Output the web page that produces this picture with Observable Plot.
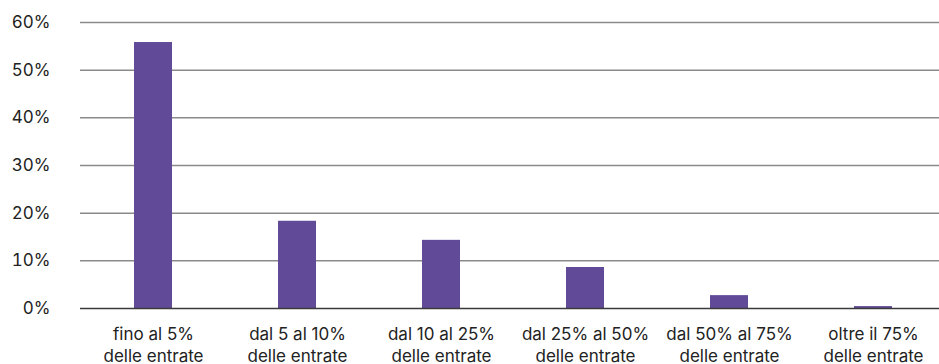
<!DOCTYPE html>
<html>
<head>
<meta charset="utf-8">
<script src="https://cdn.jsdelivr.net/npm/d3@7"></script>
<script src="https://cdn.jsdelivr.net/npm/@observablehq/plot@0.6"></script>
<style>
  html, body { margin: 0; padding: 0; background: #fff; }
  #chart svg { display: block; }
</style>
</head>
<body>
<div id="chart"></div>
<script>
const categories = [
  "fino al 5%\ndelle entrate",
  "dal 5 al 10%\ndelle entrate",
  "dal 10 al 25%\ndelle entrate",
  "dal 25% al 50%\ndelle entrate",
  "dal 50% al 75%\ndelle entrate",
  "oltre il 75%\ndelle entrate"
];
const values = [55.8, 18.3, 14.3, 8.6, 2.7, 0.4];
const yTicks = [0, 10, 20, 30, 40, 50, 60];
const yTickLabels = ["0%", "10%", "20%", "30%", "40%", "50%", "60%"];

const data = categories.map((c, i) => ({category: c, value: values[i]}));

const chart = Plot.plot({
  width: 939,
  height: 364,
  marginLeft: 80,
  marginRight: 0,
  marginTop: 22,
  marginBottom: 56,
  style: {fontFamily: "Inter, 'Noto Sans', sans-serif", fontSize: "17px", color: "#222", background: "#fff"},
  x: {domain: categories, range: [80, 946], paddingInner: 0.737, paddingOuter: 0.367, label: null},
  y: {domain: [0, 60], label: null},
  marks: [
    Plot.ruleY(yTicks.filter(d => d > 0), {stroke: "#8a8a8a", strokeWidth: 1.5}),
    Plot.barY(data, {x: "category", y: "value", fill: "#614A97"}),
    Plot.ruleY([0], {stroke: "#3a3a3a", strokeWidth: 1.5}),
    Plot.axisY({ticks: yTicks, tickFormat: (d) => yTickLabels[yTicks.indexOf(d)], tickSize: 0, tickPadding: 30, fontSize: 17, fill: "#222", label: null}),
    Plot.axisX({tickSize: 0, tickPadding: 16, fontSize: 17, lineHeight: 1.3, fill: "#222", label: null})
  ]
});
document.getElementById("chart").appendChild(chart);
</script>
</body>
</html>
